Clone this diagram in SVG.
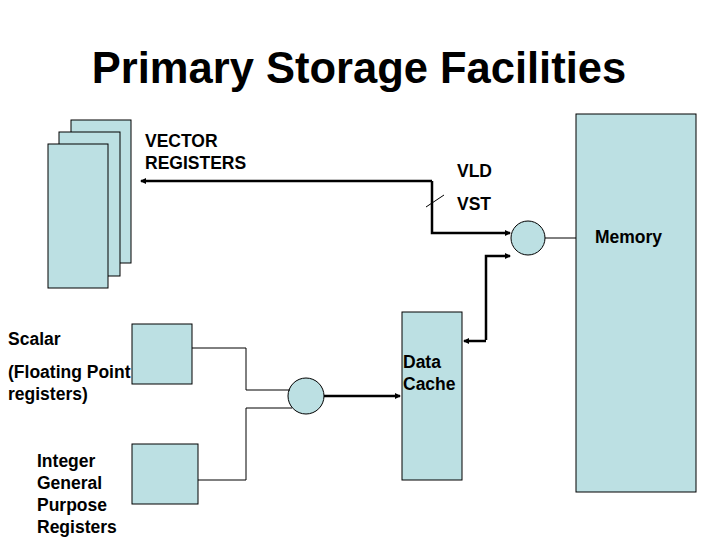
<svg xmlns="http://www.w3.org/2000/svg" width="720" height="540" viewBox="0 0 720 540">
<style>
.box{fill:#bce0e3;stroke:#000;stroke-width:1}
.ln{fill:none;stroke:#000;stroke-width:1}
.th{fill:none;stroke:#000;stroke-width:2.5}
text{font-family:"Liberation Sans",Arial,sans-serif;font-weight:bold;font-size:17.5px;fill:#000}
text.title{font-size:43.5px}
</style>
<defs><marker id="a" markerWidth="6" markerHeight="6" refX="5" refY="3" orient="auto" markerUnits="userSpaceOnUse"><path d="M0,0L6,3L0,6z" fill="#000"/></marker></defs>
<rect width="720" height="540" fill="#fff"/>
<text class="title" x="359" y="83" text-anchor="middle">Primary Storage Facilities</text>
<g id="vector"><rect class="box" x="71" y="120" width="60" height="143"/><rect class="box" x="59" y="132" width="61" height="144"/><rect class="box" x="48" y="144" width="60" height="144"/></g>
<g id="memory"><rect class="box" x="576" y="114" width="120" height="378"/><text x="595" y="243">Memory</text></g>
<g id="mux1"><circle class="box" cx="528" cy="238" r="17"/></g>
<g id="mux2"><circle class="box" cx="306" cy="396" r="18"/></g>
<g id="cache"><rect class="box" x="402" y="312" width="60" height="168"/><text x="403" y="368">Data</text><text x="403" y="390">Cache</text></g>
<g id="fp"><rect class="box" x="132" y="324" width="60" height="60"/></g>
<g id="int"><rect class="box" x="132" y="444" width="66" height="60"/></g>
<g id="connectors">
<polyline class="th" points="432,181 432,233 510,233" marker-end="url(#a)"/>
<line class="th" x1="432" y1="181" x2="141" y2="181" marker-end="url(#a)"/>
<line class="ln" x1="426" y1="207" x2="444" y2="195"/>
<polyline class="th" points="486,340 486,256 510,256" marker-end="url(#a)"/>
<line class="th" x1="486" y1="341" x2="464" y2="341" marker-end="url(#a)"/>
<line class="ln" x1="545" y1="238" x2="576" y2="238"/>
<polyline class="ln" points="192,348 246,348 246,390 290,390"/>
<polyline class="ln" points="198,480 246,480 246,408 292,408"/>
<line class="th" x1="324" y1="396" x2="400" y2="396" marker-end="url(#a)"/>
</g>
<text x="145" y="147">VECTOR</text><text x="145" y="169">REGISTERS</text>
<text x="457" y="177">VLD</text><text x="457" y="210">VST</text>
<text x="8" y="345">Scalar</text>
<text x="8" y="378">(Floating Point</text><text x="8" y="400">registers)</text>
<text x="37" y="467">Integer</text><text x="37" y="489">General</text><text x="37" y="511">Purpose</text><text x="37" y="533">Registers</text>
</svg>
